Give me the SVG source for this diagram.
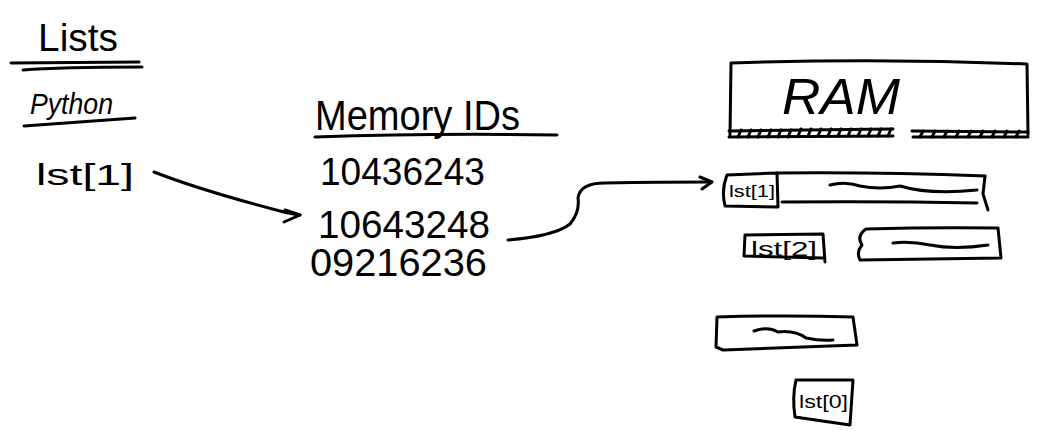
<svg xmlns="http://www.w3.org/2000/svg" width="1054" height="441" viewBox="0 0 1054 441">
<style>
.s{fill:none;stroke:#000;stroke-width:3;stroke-linecap:round;stroke-linejoin:round}
.t{font-family:"Liberation Sans",Arial,sans-serif;fill:#000}
.h{font-family:"Liberation Sans",Arial,sans-serif;fill:#000;font-style:italic}
</style>
<rect width="1054" height="441" fill="#fff"/>
<g id="title">
<text class="t" x="38" y="51" font-size="38" textLength="80" lengthAdjust="spacingAndGlyphs">Lists</text>
<path class="s" d="M11 63 L139 62"/>
<path class="s" d="M23 70 Q60 67 142 67"/>
</g>
<g id="python">
<text class="h" x="30" y="114" font-size="30" textLength="83" lengthAdjust="spacingAndGlyphs">Python</text>
<path class="s" d="M24 126 L135 118"/>
</g>
<g id="lst1-var">
<text class="t" x="36" y="185" font-size="30" textLength="98" lengthAdjust="spacingAndGlyphs">lst[1]</text>
</g>
<g id="memory-ids">
<text class="t" x="315" y="130" font-size="42" textLength="205" lengthAdjust="spacingAndGlyphs">Memory IDs</text>
<path class="s" d="M315 137 Q430 133 557 135"/>
<text class="t" x="320" y="185" font-size="38" textLength="165" lengthAdjust="spacingAndGlyphs">10436243</text>
<text class="t" x="318" y="238" font-size="38" textLength="172" lengthAdjust="spacingAndGlyphs">10643248</text>
<text class="t" x="310" y="276" font-size="38" textLength="177" lengthAdjust="spacingAndGlyphs">09216236</text>
</g>
<g id="ram">
<path class="s" d="M731 63 Q880 58 1027 64 L1028 135 M731 63 L730 135"/>
<text class="h" x="782" y="114" font-size="50" textLength="118" lengthAdjust="spacingAndGlyphs">RAM</text>
<path class="s" d="M729 131 L893 129 M912 131 L1028 132 M729 137 L893 136 M913 137 L1028 137"/>
<path class="s" stroke-width="2" d="M738 137l3-7M748 137l3-7M758 137l3-7M768 137l3-7M778 137l3-7M788 137l3-7M798 136l3-7M808 136l3-7M818 136l3-7M828 136l3-7M838 136l3-7M848 136l3-7M858 136l3-7M868 136l3-7M878 136l3-7M888 136l3-7M920 137l3-6M932 137l3-6M944 137l3-6M956 137l3-6M968 137l3-6M980 137l3-6M992 137l3-6M1004 137l3-6M1016 137l3-6"/>
</g>
<g id="ram-lst1">
<path class="s" d="M727 175 L777 173 L778 207 L725 206 Q721 190 727 175"/>
<text class="t" x="729" y="197" font-size="17" textLength="46" lengthAdjust="spacingAndGlyphs">lst[1]</text>
</g>
<g id="ram-block1">
<path class="s" d="M777 173 Q880 172 985 176"/>
<path class="s" d="M782 202 Q880 201 977 203"/>
<path class="s" d="M985 176 L983 194 L988 210"/>
<path class="s" d="M830 185 Q845 181 860 186 Q880 190 900 186 Q930 195 977 190"/>
</g>
<g id="ram-lst2">
<path class="s" d="M745 235 L823 234 L825 262 M745 235 L744 256 L823 258"/>
<text class="t" x="751" y="256" font-size="20" textLength="66" lengthAdjust="spacingAndGlyphs">lst[2]</text>
</g>
<g id="ram-block2">
<path class="s" d="M866 229 Q935 227 998 228 L1001 258 L860 260 Q856 252 862 245 Q856 236 866 229"/>
<path class="s" d="M893 243 Q910 241 930 245 Q955 250 988 245"/>
</g>
<g id="ram-block3">
<path class="s" d="M717 317 Q785 315 853 317 L857 345 L724 350 M717 317 L716 347 L723 350"/>
<path class="s" d="M754 331 Q768 326 778 332 Q795 330 806 338 Q820 341 833 340"/>
</g>
<g id="ram-lst0">
<path class="s" d="M796 380 L853 380 L850 425 L795 417 Q792 397 796 380"/>
<text class="t" x="799" y="408" font-size="18" textLength="49" lengthAdjust="spacingAndGlyphs">lst[0]</text>
</g>
<g id="connectors">
<path class="s" d="M154 172 Q200 190 280 211 Q292 214 300 215"/>
<path class="s" d="M285 210 L300 215 L284 222"/>
<path class="s" d="M508 240 Q555 236 570 224 Q580 212 578 198 Q580 183 605 183 Q660 182 710 182"/>
<path class="s" d="M700 177 L712 182 L702 189"/>
</g>
</svg>
